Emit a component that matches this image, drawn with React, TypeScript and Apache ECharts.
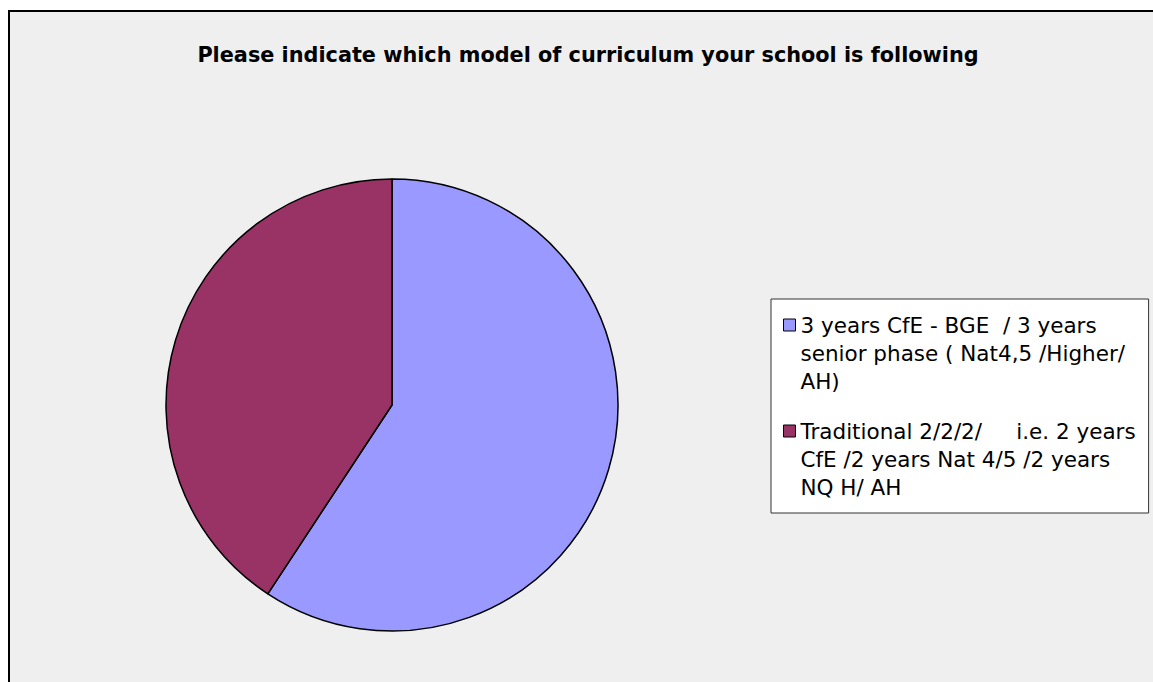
import React, { useEffect, useRef } from "react";
import * as echarts from "echarts";

const titleText = "Please indicate which model of curriculum your school is following";
const categories = [
  "3 years CfE - BGE  / 3 years senior phase ( Nat4,5 /Higher/ AH)",
  "Traditional 2/2/2/     i.e. 2 years CfE /2 years Nat 4/5 /2 years NQ H/ AH",
];
const legendLines = [
  ["3 years CfE - BGE  / 3 years", "senior phase ( Nat4,5 /Higher/", "AH)"],
  ["Traditional 2/2/2/     i.e. 2 years", "CfE /2 years Nat 4/5 /2 years", "NQ H/ AH"],
];
const values = [16, 11];
const colors = ["#9999FF", "#993366"];

export default function App() {
  const ref = useRef<HTMLDivElement>(null);
  useEffect(() => {
    if (!ref.current) return;
    const chart = echarts.init(ref.current, null, { renderer: "svg" });
    const font = "'DejaVu Sans', Verdana, sans-serif";
    chart.setOption({
      animation: false,
      backgroundColor: "#ffffff",
      graphic: [
        {
          type: "rect",
          z: -10,
          silent: true,
          shape: { x: 9, y: 11, width: 1200, height: 720 },
          style: { fill: "#EFEFEF", stroke: null, lineWidth: 0 },
        },
        {
          type: "polyline",
          z: -9,
          silent: true,
          shape: { points: [[9, 700], [9, 11], [1200, 11]] },
          style: { fill: null, stroke: "#000000", lineWidth: 2 },
        },
      ],
      title: {
        text: titleText,
        left: 588,
        top: 44,
        textAlign: "center",
        padding: 0,
        textStyle: { fontFamily: font, fontSize: 20.8, fontWeight: "bold", color: "#000" },
      },
      legend: {
        orient: "vertical",
        left: 771,
        top: 299,
        padding: [12, 13, 12, 12],
        itemGap: 22,
        itemWidth: 12,
        itemHeight: 68,
        itemTextGap: 6,
        backgroundColor: "#ffffff",
        borderColor: "#333333",
        borderWidth: 1,
        icon: "path://M0,0H12V12H0Z M0,68L0,68",
        itemStyle: { borderColor: "#000", borderWidth: 1 },
        selectedMode: false,
        data: categories,
        formatter: (name: string) => {
          const i = categories.indexOf(name);
          return legendLines[i].join("\n");
        },
        textStyle: { fontFamily: font, fontSize: 21.5, lineHeight: 28, color: "#000" },
      },
      series: [
        {
          type: "pie",
          center: [392, 405],
          radius: 226,
          startAngle: 90,
          clockwise: true,
          label: { show: false },
          labelLine: { show: false },
          emphasis: { disabled: true },
          silent: true,
          itemStyle: { borderColor: "#000", borderWidth: 1.5 },
          data: categories.map((c, i) => ({ name: c, value: values[i], itemStyle: { color: colors[i] } })),
        },
      ],
    });
    return () => chart.dispose();
  }, []);
  return <div ref={ref} style={{ position: "absolute", left: 0, top: 0, width: 1153, height: 682 }} />;
}
